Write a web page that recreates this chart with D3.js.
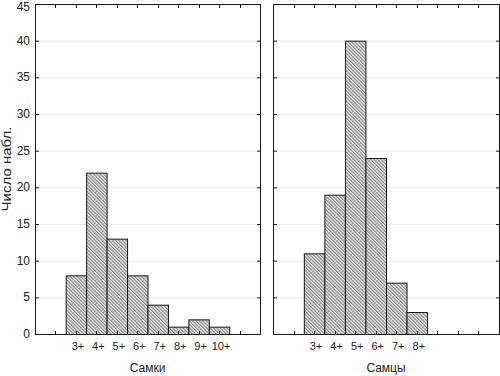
<!DOCTYPE html>
<html><head><meta charset="utf-8">
<script src="https://cdn.jsdelivr.net/npm/d3@7"></script>
<style>body{margin:0;background:#fff}svg{display:block}text{font-family:"Liberation Sans",Arial,sans-serif;fill:#222}</style>
</head><body>
<svg id="c" width="500" height="376"></svg>
<script>
const femaleCats = ["3+","4+","5+","6+","7+","8+","9+","10+"];
const femaleVals = [8,22,13,8,4,1,2,1];
const maleCats = ["3+","4+","5+","6+","7+","8+"];
const maleVals = [11,19,40,24,7,3];
const yTicks = [0,5,10,15,20,25,30,35,40,45];
const panelTitles = ["Самки","Самцы"];
const yTitle = "Число набл.";

const svg = d3.select("#c");
const defs = svg.append("defs");
const pat = defs.append("pattern").attr("id","hatch").attr("patternUnits","userSpaceOnUse")
  .attr("width",2.4).attr("height",2.4).attr("patternTransform","rotate(-45)");
pat.append("rect").attr("width",2.4).attr("height",2.4).attr("fill","#e6e6e6");
pat.append("line").attr("x1",0.6).attr("y1",0).attr("x2",0.6).attr("y2",2.4).attr("stroke","#888").attr("stroke-width",1.1);

const y = d3.scaleLinear().domain([0,45]).range([334,4]);
const panels = [
  {x0:35, x1:260, cats:femaleCats, vals:femaleVals, title:panelTitles[0]},
  {x0:273, x1:499, cats:maleCats, vals:maleVals, title:panelTitles[1]}
];

panels.forEach((p,pi)=>{
  const x = d3.scaleLinear().domain([1,12]).range([p.x0,p.x1]);
  const g = svg.append("g");
  g.selectAll(".grid").data(yTicks.filter(t=>t>0&&t<45)).join("line")
    .attr("x1",p.x0).attr("x2",p.x1).attr("y1",d=>y(d)+0.5).attr("y2",d=>y(d)+0.5)
    .attr("stroke","#ececec").attr("stroke-width",1);
  const data = p.cats.map((c,i)=>({c, v:p.vals[i], pos:i+3}));
  g.selectAll(".bar").data(data).join("rect")
    .attr("x",d=>x(d.pos-0.5)+0.5).attr("width",d=>x(d.pos+0.5)-x(d.pos-0.5))
    .attr("y",d=>y(d.v)+0.5).attr("height",d=>y(0)-y(d.v))
    .attr("fill","url(#hatch)").attr("stroke","#1a1a1a").attr("stroke-width",1);
  g.append("rect").attr("x",p.x0+0.5).attr("y",y(45)+0.5).attr("width",p.x1-p.x0).attr("height",y(0)-y(45))
    .attr("fill","none").attr("stroke","#1a1a1a").attr("stroke-width",1);
  const xt = d3.range(2,12);
  g.selectAll(".tt").data(xt).join("line")
    .attr("x1",d=>Math.round(x(d))+0.5).attr("x2",d=>Math.round(x(d))+0.5)
    .attr("y1",y(45)).attr("y2",y(45)+4).attr("stroke","#1a1a1a");
  g.selectAll(".bt").data(xt).join("line")
    .attr("x1",d=>Math.round(x(d))+0.5).attr("x2",d=>Math.round(x(d))+0.5)
    .attr("y1",y(0)).attr("y2",y(0)-3).attr("stroke","#1a1a1a");
  g.selectAll(".lt").data(yTicks).join("line")
    .attr("x1",p.x0).attr("x2",p.x0+4).attr("y1",d=>y(d)+0.5).attr("y2",d=>y(d)+0.5).attr("stroke","#1a1a1a");
  g.selectAll(".rt").data(yTicks).join("line")
    .attr("x1",p.x1+1).attr("x2",p.x1-3).attr("y1",d=>y(d)+0.5).attr("y2",d=>y(d)+0.5).attr("stroke","#1a1a1a");
  g.selectAll(".cl").data(data).join("text")
    .attr("x",d=>x(d.pos)+2).attr("y",350).attr("text-anchor","middle")
    .attr("font-size",11).text(d=>d.c);
  g.append("text").attr("x",(p.x0+p.x1)/2).attr("y",372).attr("text-anchor","middle")
    .attr("font-size",12).text(p.title);
  if(pi===0){
    g.selectAll(".yl").data(yTicks).join("text")
      .attr("x",30).attr("y",d=>d===45 ? y(d)+7 : y(d)+4).attr("text-anchor","end").attr("font-size",12).text(d=>d);
    g.append("text").attr("transform",`translate(11,${(y(0)+y(45))/2}) rotate(-90)`)
      .attr("text-anchor","middle").attr("font-size",12.5)
      .attr("textLength",85).attr("lengthAdjust","spacingAndGlyphs").text(yTitle);
  }
});
</script>
</body></html>
